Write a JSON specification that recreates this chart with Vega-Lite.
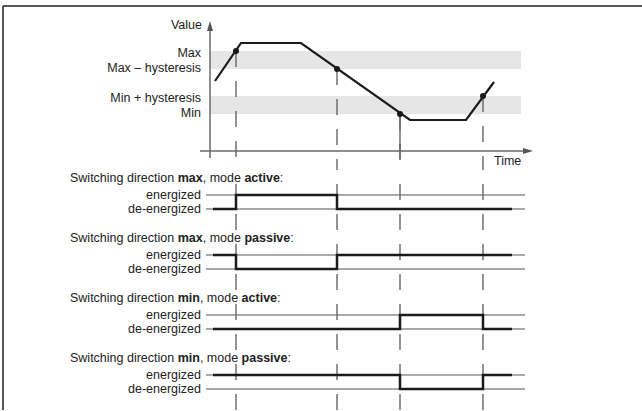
{
  "$schema": "https://vega.github.io/schema/vega-lite/v6.json",
  "padding": 0,
  "spacing": 0,
  "bounds": "flush",
  "background": "white",
  "config": {
    "view": {"stroke": null},
    "axis": {"disable": true},
    "font": "Liberation Sans",
    "text": {"font": "Liberation Sans", "fontSize": 12.5, "color": "#222222", "baseline": "middle"}
  },
  "datasets": {
    "levels": [
      {"level": "Max", "v": 100, "edge": "upper"},
      {"level": "Max – hysteresis", "v": 82, "edge": "lower"},
      {"level": "Min + hysteresis", "v": 55, "edge": "upper"},
      {"level": "Min", "v": 37, "edge": "lower"}
    ],
    "bands": [
      {"band": "Max band", "v": 82, "v2": 100},
      {"band": "Min band", "v": 37, "v2": 55}
    ],
    "curve": [
      {"t": 5, "v": 70},
      {"t": 31, "v": 108},
      {"t": 91, "v": 108},
      {"t": 200, "v": 31},
      {"t": 256, "v": 31},
      {"t": 284, "v": 69}
    ],
    "events": [
      {"t": 26, "v": 100, "event": "reaches Max"},
      {"t": 127, "v": 82, "event": "falls to Max – hysteresis"},
      {"t": 190, "v": 37, "event": "falls to Min"},
      {"t": 273, "v": 55, "event": "rises to Min + hysteresis"}
    ],
    "states": [
      {"state": 1, "label": "energized"},
      {"state": 0, "label": "de-energized"}
    ],
    "signals": [
      {"panel": "max active", "t": 3, "state": 0},
      {"panel": "max active", "t": 26, "state": 1},
      {"panel": "max active", "t": 127, "state": 0},
      {"panel": "max active", "t": 302, "state": 0},
      {"panel": "max passive", "t": 3, "state": 1},
      {"panel": "max passive", "t": 26, "state": 0},
      {"panel": "max passive", "t": 127, "state": 1},
      {"panel": "max passive", "t": 302, "state": 1},
      {"panel": "min active", "t": 3, "state": 0},
      {"panel": "min active", "t": 190, "state": 1},
      {"panel": "min active", "t": 273, "state": 0},
      {"panel": "min active", "t": 302, "state": 0},
      {"panel": "min passive", "t": 3, "state": 1},
      {"panel": "min passive", "t": 190, "state": 0},
      {"panel": "min passive", "t": 273, "state": 1},
      {"panel": "min passive", "t": 302, "state": 1}
    ]
  },
  "vconcat": [
    {
      "width": 642,
      "height": 170,
      "layer": [
        {
          "data": {"name": "bands"},
          "mark": {"type": "rect", "color": "#e6e6e6"},
          "encoding": {
            "x": {"datum": 0, "type": "quantitative"}, "x2": {"datum": 311},
            "y": {"field": "v", "type": "quantitative", "scale": {"domain": [-19, 151], "nice": false, "zero": false}},
            "y2": {"field": "v2"}
          }
        },
        {
          "data": {"name": "events"},
          "mark": {"type": "rule", "color": "#666666", "strokeWidth": 1.4, "strokeDash": [16, 14]},
          "encoding": {
            "x": {"field": "t", "type": "quantitative", "scale": {"domain": [-210, 432], "nice": false, "zero": false}},
            "y": {"field": "v", "type": "quantitative", "scale": {"domain": [-19, 151], "nice": false, "zero": false}},
            "y2": {"datum": -19}
          }
        },
        {
          "data": {"name": "events"},
          "transform": [{"filter": "datum.t == 190"}],
          "mark": {"type": "rule", "color": "#666666", "strokeWidth": 1.4},
          "encoding": {
            "x": {"field": "t", "type": "quantitative", "scale": {"domain": [-210, 432], "nice": false, "zero": false}},
            "y": {"field": "v", "type": "quantitative", "scale": {"domain": [-19, 151], "nice": false, "zero": false}},
            "y2": {"datum": -8}
          }
        },
        {
          "data": {"values": [{}]},
          "mark": {"type": "rule", "color": "#222222", "strokeWidth": 1.5},
          "encoding": {"x": {"datum": -207, "type": "quantitative"}, "x2": {"datum": 432}, "y": {"datum": 145, "type": "quantitative"}}
        },
        {
          "data": {"values": [{}]},
          "mark": {"type": "rule", "color": "#222222", "strokeWidth": 1.5},
          "encoding": {"x": {"datum": -207, "type": "quantitative"}, "y": {"datum": 145, "type": "quantitative"}, "y2": {"datum": -19}}
        },
        {
          "data": {"values": [{}]},
          "mark": {"type": "rule", "color": "#6a6a6a", "strokeWidth": 1.5},
          "encoding": {"x": {"datum": 0, "type": "quantitative"}, "y": {"datum": -7, "type": "quantitative"}, "y2": {"datum": 124}}
        },
        {
          "data": {"values": [{}]},
          "mark": {"type": "point", "filled": true, "opacity": 1, "color": "#555555", "size": 100, "shape": "M0,-1L0.6,1L-0.6,1Z"},
          "encoding": {"x": {"datum": 0, "type": "quantitative"}, "y": {"datum": 125, "type": "quantitative"}}
        },
        {
          "data": {"values": [{}]},
          "mark": {"type": "rule", "color": "#6a6a6a", "strokeWidth": 1.5},
          "encoding": {"x": {"datum": -10, "type": "quantitative"}, "x2": {"datum": 317}, "y": {"datum": 0, "type": "quantitative"}}
        },
        {
          "data": {"values": [{}]},
          "mark": {"type": "point", "filled": true, "opacity": 1, "color": "#555555", "size": 100, "shape": "M1,0L-1,0.6L-1,-0.6Z"},
          "encoding": {"x": {"datum": 318, "type": "quantitative"}, "y": {"datum": 0, "type": "quantitative"}}
        },
        {
          "data": {"name": "curve"},
          "mark": {"type": "line", "color": "#1a1a1a", "strokeWidth": 2.2},
          "encoding": {
            "x": {"field": "t", "type": "quantitative", "scale": {"domain": [-210, 432], "nice": false, "zero": false}},
            "y": {"field": "v", "type": "quantitative", "scale": {"domain": [-19, 151], "nice": false, "zero": false}}
          }
        },
        {
          "data": {"name": "events"},
          "mark": {"type": "point", "filled": true, "opacity": 1, "color": "#1a1a1a", "size": 36},
          "encoding": {
            "x": {"field": "t", "type": "quantitative", "scale": {"domain": [-210, 432], "nice": false, "zero": false}},
            "y": {"field": "v", "type": "quantitative", "scale": {"domain": [-19, 151], "nice": false, "zero": false}}
          }
        },
        {
          "data": {"name": "levels"},
          "transform": [{"filter": "datum.edge == 'upper'"}],
          "mark": {"type": "text", "align": "right", "dy": 2},
          "encoding": {
            "x": {"datum": -9, "type": "quantitative"},
            "y": {"field": "v", "type": "quantitative", "scale": {"domain": [-19, 151], "nice": false, "zero": false}},
            "text": {"field": "level"}
          }
        },
        {
          "data": {"name": "levels"},
          "transform": [{"filter": "datum.edge == 'lower'"}],
          "mark": {"type": "text", "align": "right", "dy": -1.5},
          "encoding": {
            "x": {"datum": -9, "type": "quantitative"},
            "y": {"field": "v", "type": "quantitative", "scale": {"domain": [-19, 151], "nice": false, "zero": false}},
            "text": {"field": "level"}
          }
        },
        {
          "data": {"values": [{"label": "Value"}]},
          "mark": {"type": "text", "align": "right"},
          "encoding": {"x": {"datum": -8, "type": "quantitative"}, "y": {"datum": 126, "type": "quantitative"}, "text": {"field": "label"}}
        },
        {
          "data": {"values": [{"label": "Time"}]},
          "mark": {"type": "text", "align": "left"},
          "encoding": {"x": {"datum": 284, "type": "quantitative"}, "y": {"datum": -10, "type": "quantitative"}, "text": {"field": "label"}}
        }
      ]
    },
    {
      "width": 642,
      "height": 60,
      "layer": [
        {"data": {"values": [{}]}, "mark": {"type": "rule", "color": "#222222", "strokeWidth": 1.5}, "encoding": {"x": {"datum": -207, "type": "quantitative"}, "y": {"datum": -1.5, "type": "quantitative"}, "y2": {"datum": 2.7857}}},
        {"data": {"name": "states"}, "mark": {"type": "rule", "color": "#555555", "strokeWidth": 1}, "encoding": {"x": {"datum": -4, "type": "quantitative"}, "x2": {"datum": 315}, "y": {"field": "state", "type": "quantitative", "scale": {"domain": [-1.5, 2.7857], "nice": false, "zero": false}}}},
        {"data": {"name": "events"}, "mark": {"type": "rule", "color": "#666666", "strokeWidth": 1.4, "strokeDash": [16, 14]}, "encoding": {"x": {"field": "t", "type": "quantitative", "scale": {"domain": [-210, 432], "nice": false, "zero": false}}, "y": {"datum": -1.5, "type": "quantitative"}, "y2": {"datum": 2.7857}}},
        {"data": {"name": "signals"}, "transform": [{"filter": "datum.panel == 'max active'"}], "mark": {"type": "line", "interpolate": "step-after", "color": "#1a1a1a", "strokeWidth": 2.5}, "encoding": {"x": {"field": "t", "type": "quantitative", "scale": {"domain": [-210, 432], "nice": false, "zero": false}}, "y": {"field": "state", "type": "quantitative", "scale": {"domain": [-1.5, 2.7857], "nice": false, "zero": false}}}},
        {"data": {"name": "states"}, "mark": {"type": "text", "align": "right"}, "encoding": {"x": {"datum": -9, "type": "quantitative"}, "y": {"field": "state", "type": "quantitative", "scale": {"domain": [-1.5, 2.7857], "nice": false, "zero": false}}, "text": {"field": "label"}}},
        {"data": {"values": [{"s": "Switching direction"}]}, "mark": {"type": "text", "align": "left"}, "encoding": {"x": {"datum": -140, "type": "quantitative"}, "y": {"datum": 2.18, "type": "quantitative"}, "text": {"field": "s"}}},
        {"data": {"values": [{"s": "max"}]}, "mark": {"type": "text", "align": "left", "fontWeight": "bold", "dx": 107.7}, "encoding": {"x": {"datum": -140, "type": "quantitative"}, "y": {"datum": 2.18, "type": "quantitative"}, "text": {"field": "s"}}},
        {"data": {"values": [{"s": ", mode"}]}, "mark": {"type": "text", "align": "left", "dx": 132.7}, "encoding": {"x": {"datum": -140, "type": "quantitative"}, "y": {"datum": 2.18, "type": "quantitative"}, "text": {"field": "s"}}},
        {"data": {"values": [{"s": "active"}]}, "mark": {"type": "text", "align": "left", "fontWeight": "bold", "dx": 174.4}, "encoding": {"x": {"datum": -140, "type": "quantitative"}, "y": {"datum": 2.18, "type": "quantitative"}, "text": {"field": "s"}}},
        {"data": {"values": [{"s": ":"}]}, "mark": {"type": "text", "align": "left", "dx": 209.8}, "encoding": {"x": {"datum": -140, "type": "quantitative"}, "y": {"datum": 2.18, "type": "quantitative"}, "text": {"field": "s"}}}
      ]
    },
    {
      "width": 642,
      "height": 60,
      "layer": [
        {"data": {"values": [{}]}, "mark": {"type": "rule", "color": "#222222", "strokeWidth": 1.5}, "encoding": {"x": {"datum": -207, "type": "quantitative"}, "y": {"datum": -1.5, "type": "quantitative"}, "y2": {"datum": 2.7857}}},
        {"data": {"name": "states"}, "mark": {"type": "rule", "color": "#555555", "strokeWidth": 1}, "encoding": {"x": {"datum": -4, "type": "quantitative"}, "x2": {"datum": 315}, "y": {"field": "state", "type": "quantitative", "scale": {"domain": [-1.5, 2.7857], "nice": false, "zero": false}}}},
        {"data": {"name": "events"}, "mark": {"type": "rule", "color": "#666666", "strokeWidth": 1.4, "strokeDash": [16, 14]}, "encoding": {"x": {"field": "t", "type": "quantitative", "scale": {"domain": [-210, 432], "nice": false, "zero": false}}, "y": {"datum": -1.5, "type": "quantitative"}, "y2": {"datum": 2.7857}}},
        {"data": {"name": "signals"}, "transform": [{"filter": "datum.panel == 'max passive'"}], "mark": {"type": "line", "interpolate": "step-after", "color": "#1a1a1a", "strokeWidth": 2.5}, "encoding": {"x": {"field": "t", "type": "quantitative", "scale": {"domain": [-210, 432], "nice": false, "zero": false}}, "y": {"field": "state", "type": "quantitative", "scale": {"domain": [-1.5, 2.7857], "nice": false, "zero": false}}}},
        {"data": {"name": "states"}, "mark": {"type": "text", "align": "right"}, "encoding": {"x": {"datum": -9, "type": "quantitative"}, "y": {"field": "state", "type": "quantitative", "scale": {"domain": [-1.5, 2.7857], "nice": false, "zero": false}}, "text": {"field": "label"}}},
        {"data": {"values": [{"s": "Switching direction"}]}, "mark": {"type": "text", "align": "left"}, "encoding": {"x": {"datum": -140, "type": "quantitative"}, "y": {"datum": 2.18, "type": "quantitative"}, "text": {"field": "s"}}},
        {"data": {"values": [{"s": "max"}]}, "mark": {"type": "text", "align": "left", "fontWeight": "bold", "dx": 107.7}, "encoding": {"x": {"datum": -140, "type": "quantitative"}, "y": {"datum": 2.18, "type": "quantitative"}, "text": {"field": "s"}}},
        {"data": {"values": [{"s": ", mode"}]}, "mark": {"type": "text", "align": "left", "dx": 132.7}, "encoding": {"x": {"datum": -140, "type": "quantitative"}, "y": {"datum": 2.18, "type": "quantitative"}, "text": {"field": "s"}}},
        {"data": {"values": [{"s": "passive"}]}, "mark": {"type": "text", "align": "left", "fontWeight": "bold", "dx": 174.4}, "encoding": {"x": {"datum": -140, "type": "quantitative"}, "y": {"datum": 2.18, "type": "quantitative"}, "text": {"field": "s"}}},
        {"data": {"values": [{"s": ":"}]}, "mark": {"type": "text", "align": "left", "dx": 220.3}, "encoding": {"x": {"datum": -140, "type": "quantitative"}, "y": {"datum": 2.18, "type": "quantitative"}, "text": {"field": "s"}}}
      ]
    },
    {
      "width": 642,
      "height": 60,
      "layer": [
        {"data": {"values": [{}]}, "mark": {"type": "rule", "color": "#222222", "strokeWidth": 1.5}, "encoding": {"x": {"datum": -207, "type": "quantitative"}, "y": {"datum": -1.5, "type": "quantitative"}, "y2": {"datum": 2.7857}}},
        {"data": {"name": "states"}, "mark": {"type": "rule", "color": "#555555", "strokeWidth": 1}, "encoding": {"x": {"datum": -4, "type": "quantitative"}, "x2": {"datum": 315}, "y": {"field": "state", "type": "quantitative", "scale": {"domain": [-1.5, 2.7857], "nice": false, "zero": false}}}},
        {"data": {"name": "events"}, "mark": {"type": "rule", "color": "#666666", "strokeWidth": 1.4, "strokeDash": [16, 14]}, "encoding": {"x": {"field": "t", "type": "quantitative", "scale": {"domain": [-210, 432], "nice": false, "zero": false}}, "y": {"datum": -1.5, "type": "quantitative"}, "y2": {"datum": 2.7857}}},
        {"data": {"name": "signals"}, "transform": [{"filter": "datum.panel == 'min active'"}], "mark": {"type": "line", "interpolate": "step-after", "color": "#1a1a1a", "strokeWidth": 2.5}, "encoding": {"x": {"field": "t", "type": "quantitative", "scale": {"domain": [-210, 432], "nice": false, "zero": false}}, "y": {"field": "state", "type": "quantitative", "scale": {"domain": [-1.5, 2.7857], "nice": false, "zero": false}}}},
        {"data": {"name": "states"}, "mark": {"type": "text", "align": "right"}, "encoding": {"x": {"datum": -9, "type": "quantitative"}, "y": {"field": "state", "type": "quantitative", "scale": {"domain": [-1.5, 2.7857], "nice": false, "zero": false}}, "text": {"field": "label"}}},
        {"data": {"values": [{"s": "Switching direction"}]}, "mark": {"type": "text", "align": "left"}, "encoding": {"x": {"datum": -140, "type": "quantitative"}, "y": {"datum": 2.18, "type": "quantitative"}, "text": {"field": "s"}}},
        {"data": {"values": [{"s": "min"}]}, "mark": {"type": "text", "align": "left", "fontWeight": "bold", "dx": 107.7}, "encoding": {"x": {"datum": -140, "type": "quantitative"}, "y": {"datum": 2.18, "type": "quantitative"}, "text": {"field": "s"}}},
        {"data": {"values": [{"s": ", mode"}]}, "mark": {"type": "text", "align": "left", "dx": 129.9}, "encoding": {"x": {"datum": -140, "type": "quantitative"}, "y": {"datum": 2.18, "type": "quantitative"}, "text": {"field": "s"}}},
        {"data": {"values": [{"s": "active"}]}, "mark": {"type": "text", "align": "left", "fontWeight": "bold", "dx": 171.6}, "encoding": {"x": {"datum": -140, "type": "quantitative"}, "y": {"datum": 2.18, "type": "quantitative"}, "text": {"field": "s"}}},
        {"data": {"values": [{"s": ":"}]}, "mark": {"type": "text", "align": "left", "dx": 207.0}, "encoding": {"x": {"datum": -140, "type": "quantitative"}, "y": {"datum": 2.18, "type": "quantitative"}, "text": {"field": "s"}}}
      ]
    },
    {
      "width": 642,
      "height": 60,
      "layer": [
        {"data": {"values": [{}]}, "mark": {"type": "rule", "color": "#222222", "strokeWidth": 1.5}, "encoding": {"x": {"datum": -207, "type": "quantitative"}, "y": {"datum": -1.5, "type": "quantitative"}, "y2": {"datum": 2.7857}}},
        {"data": {"name": "states"}, "mark": {"type": "rule", "color": "#555555", "strokeWidth": 1}, "encoding": {"x": {"datum": -4, "type": "quantitative"}, "x2": {"datum": 315}, "y": {"field": "state", "type": "quantitative", "scale": {"domain": [-1.5, 2.7857], "nice": false, "zero": false}}}},
        {"data": {"name": "events"}, "mark": {"type": "rule", "color": "#666666", "strokeWidth": 1.4, "strokeDash": [16, 14]}, "encoding": {"x": {"field": "t", "type": "quantitative", "scale": {"domain": [-210, 432], "nice": false, "zero": false}}, "y": {"datum": -1.5, "type": "quantitative"}, "y2": {"datum": 2.7857}}},
        {"data": {"name": "signals"}, "transform": [{"filter": "datum.panel == 'min passive'"}], "mark": {"type": "line", "interpolate": "step-after", "color": "#1a1a1a", "strokeWidth": 2.5}, "encoding": {"x": {"field": "t", "type": "quantitative", "scale": {"domain": [-210, 432], "nice": false, "zero": false}}, "y": {"field": "state", "type": "quantitative", "scale": {"domain": [-1.5, 2.7857], "nice": false, "zero": false}}}},
        {"data": {"name": "states"}, "mark": {"type": "text", "align": "right"}, "encoding": {"x": {"datum": -9, "type": "quantitative"}, "y": {"field": "state", "type": "quantitative", "scale": {"domain": [-1.5, 2.7857], "nice": false, "zero": false}}, "text": {"field": "label"}}},
        {"data": {"values": [{"s": "Switching direction"}]}, "mark": {"type": "text", "align": "left"}, "encoding": {"x": {"datum": -140, "type": "quantitative"}, "y": {"datum": 2.18, "type": "quantitative"}, "text": {"field": "s"}}},
        {"data": {"values": [{"s": "min"}]}, "mark": {"type": "text", "align": "left", "fontWeight": "bold", "dx": 107.7}, "encoding": {"x": {"datum": -140, "type": "quantitative"}, "y": {"datum": 2.18, "type": "quantitative"}, "text": {"field": "s"}}},
        {"data": {"values": [{"s": ", mode"}]}, "mark": {"type": "text", "align": "left", "dx": 129.9}, "encoding": {"x": {"datum": -140, "type": "quantitative"}, "y": {"datum": 2.18, "type": "quantitative"}, "text": {"field": "s"}}},
        {"data": {"values": [{"s": "passive"}]}, "mark": {"type": "text", "align": "left", "fontWeight": "bold", "dx": 171.6}, "encoding": {"x": {"datum": -140, "type": "quantitative"}, "y": {"datum": 2.18, "type": "quantitative"}, "text": {"field": "s"}}},
        {"data": {"values": [{"s": ":"}]}, "mark": {"type": "text", "align": "left", "dx": 217.5}, "encoding": {"x": {"datum": -140, "type": "quantitative"}, "y": {"datum": 2.18, "type": "quantitative"}, "text": {"field": "s"}}}
      ]
    }
  ]
}
